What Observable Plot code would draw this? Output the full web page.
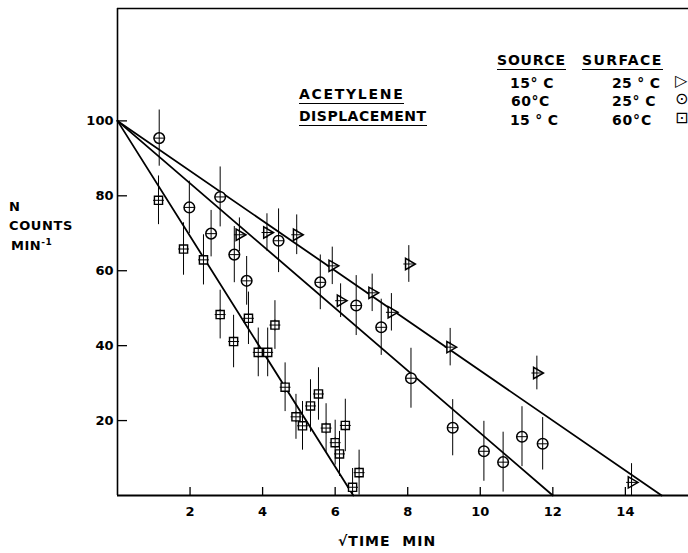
<!DOCTYPE html>
<html><head><meta charset="utf-8">
<script src="https://cdn.jsdelivr.net/npm/d3@7"></script>
<script src="https://cdn.jsdelivr.net/npm/@observablehq/plot@0.6"></script>
<style>
body{margin:0;background:#fff;}
#wrap{position:relative;width:688px;height:553px;font-family:"DejaVu Sans",sans-serif;font-weight:bold;color:#000;}
.t{position:absolute;white-space:nowrap;line-height:1;}
.u{border-bottom:1.6px solid #000;padding-bottom:2px;}
.sym{font-weight:normal;}
sup{font-size:9px;vertical-align:5px;}
</style></head><body><div id="wrap"></div>
<script>
// ---- data ----
// Source 15 C / Surface 25 C  (right-pointing triangles)
const triX   = [3.36, 4.12, 4.94, 5.92, 6.15, 7.02, 7.55, 8.03, 9.17, 11.56, 14.17];
const triY   = [69.6, 70.2, 69.6, 61.3, 52.0, 54.1, 48.9, 61.8, 39.6, 32.7, 3.5];
const triErr = [4.5, 5, 5.3, 5, 4.5, 5, 5, 4.9, 5, 4.5, 5];
// Source 60 C / Surface 25 C  (circles)
const cirX   = [1.15, 1.98, 2.58, 2.83, 3.22, 3.56, 4.44, 5.59, 6.58, 7.27, 8.09, 9.24, 10.1, 10.63, 11.15, 11.72];
const cirY   = [95.4, 76.9, 69.9, 79.7, 64.3, 57.3, 68.0, 56.9, 50.7, 44.9, 31.3, 18.1, 11.8, 8.9, 15.7, 13.8];
const cirErr = [7.5, 7, 6.2, 8, 7.5, 6.5, 8.5, 7.3, 8, 7.5, 8, 7.5, 8, 8, 8, 7];
// Source 15 C / Surface 60 C  (squares)
const sqX    = [1.13, 1.82, 2.37, 2.83, 3.2, 3.61, 3.88, 4.14, 4.34, 4.62, 4.92, 5.1, 5.32, 5.54, 5.75, 6.0, 6.12, 6.28, 6.48, 6.66];
const sqY    = [78.8, 65.8, 62.9, 48.3, 41.1, 47.3, 38.2, 38.2, 45.5, 28.9, 21.0, 18.6, 23.9, 27.1, 18.0, 14.1, 11.1, 18.7, 2.2, 6.1];
const sqErr  = [6.5, 7, 6.7, 6.5, 7, 7, 6.5, 6.5, 6.5, 6.5, 6, 6.5, 7, 7, 6.5, 6, 6, 7, 5, 6];
// fitted straight lines: start value at x=0 and x where they reach zero
const fitStartY = 100;
const fitSeries = ["tri", "cir", "sq"];
const fitEndX   = [15, 12, 6.5];
// axes
const xTicks = [2, 4, 6, 8, 10, 12, 14];
const yTicks = [20, 40, 60, 80, 100];
const xMax = 15.74, yMax = 130;

// ---- build tables ----
const mk = (xs, ys, es, s) => xs.map((x, i) => ({x, y: ys[i], e: es[i], s}));
const tri = mk(triX, triY, triErr, "tri");
const cir = mk(cirX, cirY, cirErr, "cir");
const sq  = mk(sqX, sqY, sqErr, "sq");
const all = [...tri, ...cir, ...sq];
const fit = fitSeries.flatMap((s, i) => [{s, x: 0, y: fitStartY}, {s, x: fitEndX[i], y: 0}]);

const chart = Plot.plot({
  width: 688, height: 553,
  marginLeft: 117, marginRight: 0, marginTop: 8, marginBottom: 58,
  x: {domain: [0, xMax]},
  y: {domain: [0, yMax]},
  style: {fontFamily: "DejaVu Sans, sans-serif", fontWeight: "bold", fontSize: "13px", color: "#000", background: "#fff", overflow: "visible"},
  marks: [
    Plot.ruleX([0], {stroke: "#000", strokeWidth: 1.6}),
    Plot.ruleY([0], {stroke: "#000", strokeWidth: 1.8}),
    Plot.ruleY([yMax], {stroke: "#000", strokeWidth: 1.6}),
    Plot.axisX({ticks: xTicks, tickSize: 8, dy: -8, fill: "none", tickFormat: () => "", label: null, strokeWidth: 1.3}),
    Plot.axisX({ticks: xTicks, tickSize: 0, tickPadding: 11, label: null, fontSize: 13}),
    Plot.axisY({ticks: yTicks, tickSize: 10, dx: 10, fill: "none", tickFormat: () => "", label: null, strokeWidth: 1.3}),
    Plot.axisY({ticks: yTicks, tickSize: 0, tickPadding: 4, label: null, fontSize: 13}),
    Plot.ruleX(all, {x: "x", y1: d => Math.max(0, d.y - d.e), y2: d => d.y + d.e, stroke: "#000", strokeWidth: 1}),
    Plot.line(fit, {x: "x", y: "y", z: "s", stroke: "#000", strokeWidth: 1.8}),
    Plot.dot(tri, {x: "x", y: "y", symbol: "triangle", rotate: 90, r: 4.2, fill: "#fff", stroke: "#000", strokeWidth: 1.5}),
    Plot.dot(cir, {x: "x", y: "y", symbol: "circle", r: 5.3, fill: "#fff", stroke: "#000", strokeWidth: 1.5}),
    Plot.dot(sq, {x: "x", y: "y", symbol: "square", r: 4.6, fill: "#fff", stroke: "#000", strokeWidth: 1.4}),
    Plot.dot(all, {x: "x", y: "y", symbol: "plus", r: 3.6, stroke: "#000", strokeWidth: 1})
  ]
});
const wrap = document.getElementById("wrap");
wrap.appendChild(chart);

const labels = [
  {h: "ACETYLENE", l: 299, t: 87, fs: 14, ls: 1.7, u: true},
  {h: "DISPLACEMENT", l: 299, t: 109, fs: 14, ls: 0.5, u: true},
  {h: "SOURCE", l: 497, t: 53, fs: 14, ls: 0.8, u: true},
  {h: "SURFACE", l: 582, t: 53, fs: 14, ls: 1.4, u: true},
  {h: "15° C", l: 510, t: 76, fs: 14, ls: 0.5},
  {h: "25 ° C", l: 612, t: 76, fs: 14, ls: 0.3},
  {h: "60°C", l: 511, t: 94, fs: 14, ls: 0.5},
  {h: "25° C", l: 612, t: 94, fs: 14, ls: 0.5},
  {h: "15 ° C", l: 510, t: 113, fs: 14, ls: 0.3},
  {h: "60°C", l: 612, t: 113, fs: 14, ls: 0.8},
  {h: "▷", l: 675, t: 73, fs: 16, cls: "sym"},
  {h: "⊙", l: 675, t: 91, fs: 16, cls: "sym"},
  {h: "⊡", l: 675, t: 110, fs: 16, cls: "sym"},
  {h: "N", l: 9, t: 200, fs: 13, ls: 0},
  {h: "COUNTS", l: 9, t: 219, fs: 13, ls: 0.6},
  {h: "MIN<sup>-1</sup>", l: 11, t: 238, fs: 13, ls: 0.5},
  {h: "√TIME&nbsp;&nbsp;MIN", l: 338, t: 534, fs: 14, ls: 1}
];
for (const o of labels) {
  const d = document.createElement("div");
  d.className = "t" + (o.u ? " u" : "") + (o.cls ? " " + o.cls : "");
  d.style.left = o.l + "px"; d.style.top = o.t + "px";
  d.style.fontSize = o.fs + "px"; d.style.letterSpacing = (o.ls || 0) + "px";
  d.innerHTML = o.h;
  wrap.appendChild(d);
}
</script>
</body></html>
